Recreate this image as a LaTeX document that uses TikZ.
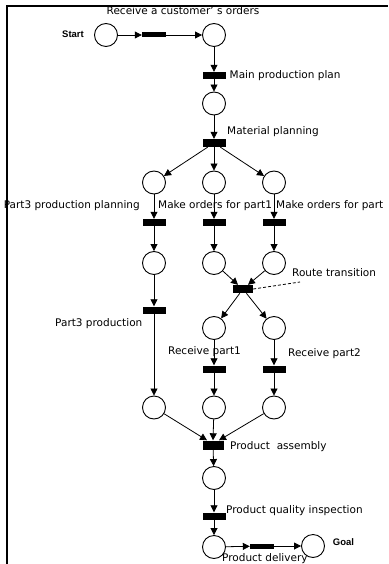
\documentclass[tikz,border=0pt]{standalone}
\usepackage{fontspec}
\setmainfont{DejaVu Sans}
\newfontfamily\tagfont{Liberation Sans}
\usetikzlibrary{arrows.meta}
\begin{document}
\begin{tikzpicture}[x=1pt,y=-1pt,
  place/.style={circle,draw,line width=0.9pt,minimum size=23pt,inner sep=0pt},
  trans/.style={rectangle,fill=black,inner sep=0pt,minimum width=23pt,minimum height=7pt},
  htrans/.style={trans,minimum width=24pt,minimum height=5pt},
  arc/.style={line width=0.8pt,-{Triangle[length=7pt,width=7pt]}},
  link/.style={line width=0.8pt},
  lbl/.style={font=\fontsize{10.5}{12}\selectfont,inner sep=0pt},
  tag/.style={font=\tagfont\bfseries\fontsize{9.5}{11}\selectfont,inner sep=0pt}]
\useasboundingbox (0,0) rectangle (388,564);

% frame
\draw[line width=2pt,line join=miter] (7,564) -- (7,5.7) -- (388,5.7);

% places
\node[place] (pS) at (106,35) {};
\node[place] (pR) at (214,35) {};
\node[place] (p1) at (214,103.5) {};
\node[place] (pa) at (154,182.5) {};
\node[place] (pb) at (214,182.5) {};
\node[place] (pc) at (274,182.5) {};
\node[place] (qa) at (154,263) {};
\node[place] (qb) at (214,263) {};
\node[place] (qc) at (274,263) {};
\node[place] (rb) at (214,328) {};
\node[place] (rc) at (274,328) {};
\node[place] (sa) at (154,407.5) {};
\node[place] (sb) at (214,407.5) {};
\node[place] (sc) at (274,407.5) {};
\node[place] (pd) at (214,478) {};
\node[place] (pe) at (214,547) {};
\node[place] (pG) at (313,546) {};

% transitions
\node[htrans] (t0) at (154,35) {};
\node[trans] (tM) at (214,75.5) {};
\node[trans,minimum height=8pt] (tMat) at (214,143) {};
\node[trans] (ta) at (154,222.5) {};
\node[trans] (tb) at (214,222.5) {};
\node[trans] (tc) at (274,222.5) {};
\node[trans,minimum width=20pt,minimum height=8pt] (tRoute) at (243,289) {};
\node[trans] (tP3) at (154,310) {};
\node[trans] (tr1) at (214,369) {};
\node[trans] (tr2) at (274,369) {};
\node[trans,minimum width=21pt,minimum height=9pt] (tAsm) at (213,445) {};
\node[trans] (tQ) at (214,516) {};
\node[htrans] (tD) at (262,546) {};

% arcs
\draw[arc] (pS) -- (t0);
\draw[arc] (t0) -- (pR);
\draw[arc] (pR) -- (tM);
\draw[arc] (tM) -- (p1);
\draw[arc] (p1) -- (tMat);
\draw[arc] (tMat) -- (pa);
\draw[arc] (tMat) -- (pb);
\draw[arc] (tMat) -- (pc);
\draw[arc] (pa) -- (ta);
\draw[arc] (pb) -- (tb);
\draw[arc] (pc) -- (tc);
\draw[arc] (ta) -- (qa);
\draw[arc] (tb) -- (qb);
\draw[arc] (tc) -- (qc);
\draw[arc] (qa) -- (tP3);
\draw[arc] (tP3) -- (sa);
\draw[arc] (qb) -- ([xshift=-5pt]tRoute.north);
\draw[arc] (qc) -- ([xshift=5pt]tRoute.north);
\draw[arc] (tRoute) -- (rb);
\draw[arc] (tRoute) -- (rc);
\draw[arc] (rb) -- (tr1);
\draw[arc] (rc) -- (tr2);
\draw[arc] (tr1) -- (sb);
\draw[arc] (tr2) -- (sc);
\draw[arc] (sa) -- ([xshift=-6pt]tAsm.north);
\draw[arc] (sb) -- (tAsm.north);
\draw[arc] (sc) -- ([xshift=6pt]tAsm.north);
\draw[arc] (tAsm) -- (pd);
\draw[arc] (pd) -- (tQ);
\draw[arc] (tQ) -- (pe);
\draw[arc] (pe) -- (tD);
\draw[arc] (tD) -- (pG);

% pointer to the route transition
\coordinate (routeTip) at (300,282);
\draw[link,dashed,dash pattern=on 3pt off 2pt] (tRoute.east) -- (routeTip);

% labels
\node[tag] (lStart) at (73,34) {Start};
\node[tag] (lGoal) at (343.5,542.5) {Goal};
\node[lbl] (lRecv) at (183,11) {Receive a customer’ s orders};
\node[lbl,anchor=west] (lMain) at (229.5,75.5) {Main production plan};
\node[lbl,anchor=west] (lMat) at (227,132) {Material planning};
\node[lbl,anchor=east] (lP3p) at (140,206) {Part3 production planning};
\node[lbl,anchor=west] (lMo1) at (158,206) {Make orders for part1};
\node[lbl,anchor=west] (lMo2) at (276,206) {Make orders for part};
\node[lbl,anchor=west] (lRoute) at (292,273) {Route transition};
\node[lbl,anchor=west] (lP3) at (55,323.5) {Part3 production};
\node[lbl,anchor=west] (lR1) at (168,352) {Receive part1};
\node[lbl,anchor=west] (lR2) at (288,354) {Receive part2};
\node[lbl,anchor=west] (lAsm) at (230,446.5) {Product\ \ assembly};
\node[lbl,anchor=west] (lQ) at (226,510.5) {Product quality inspection};
\node[lbl,anchor=west] (lD) at (222,559) {Product delivery};
\end{tikzpicture}
\end{document}
